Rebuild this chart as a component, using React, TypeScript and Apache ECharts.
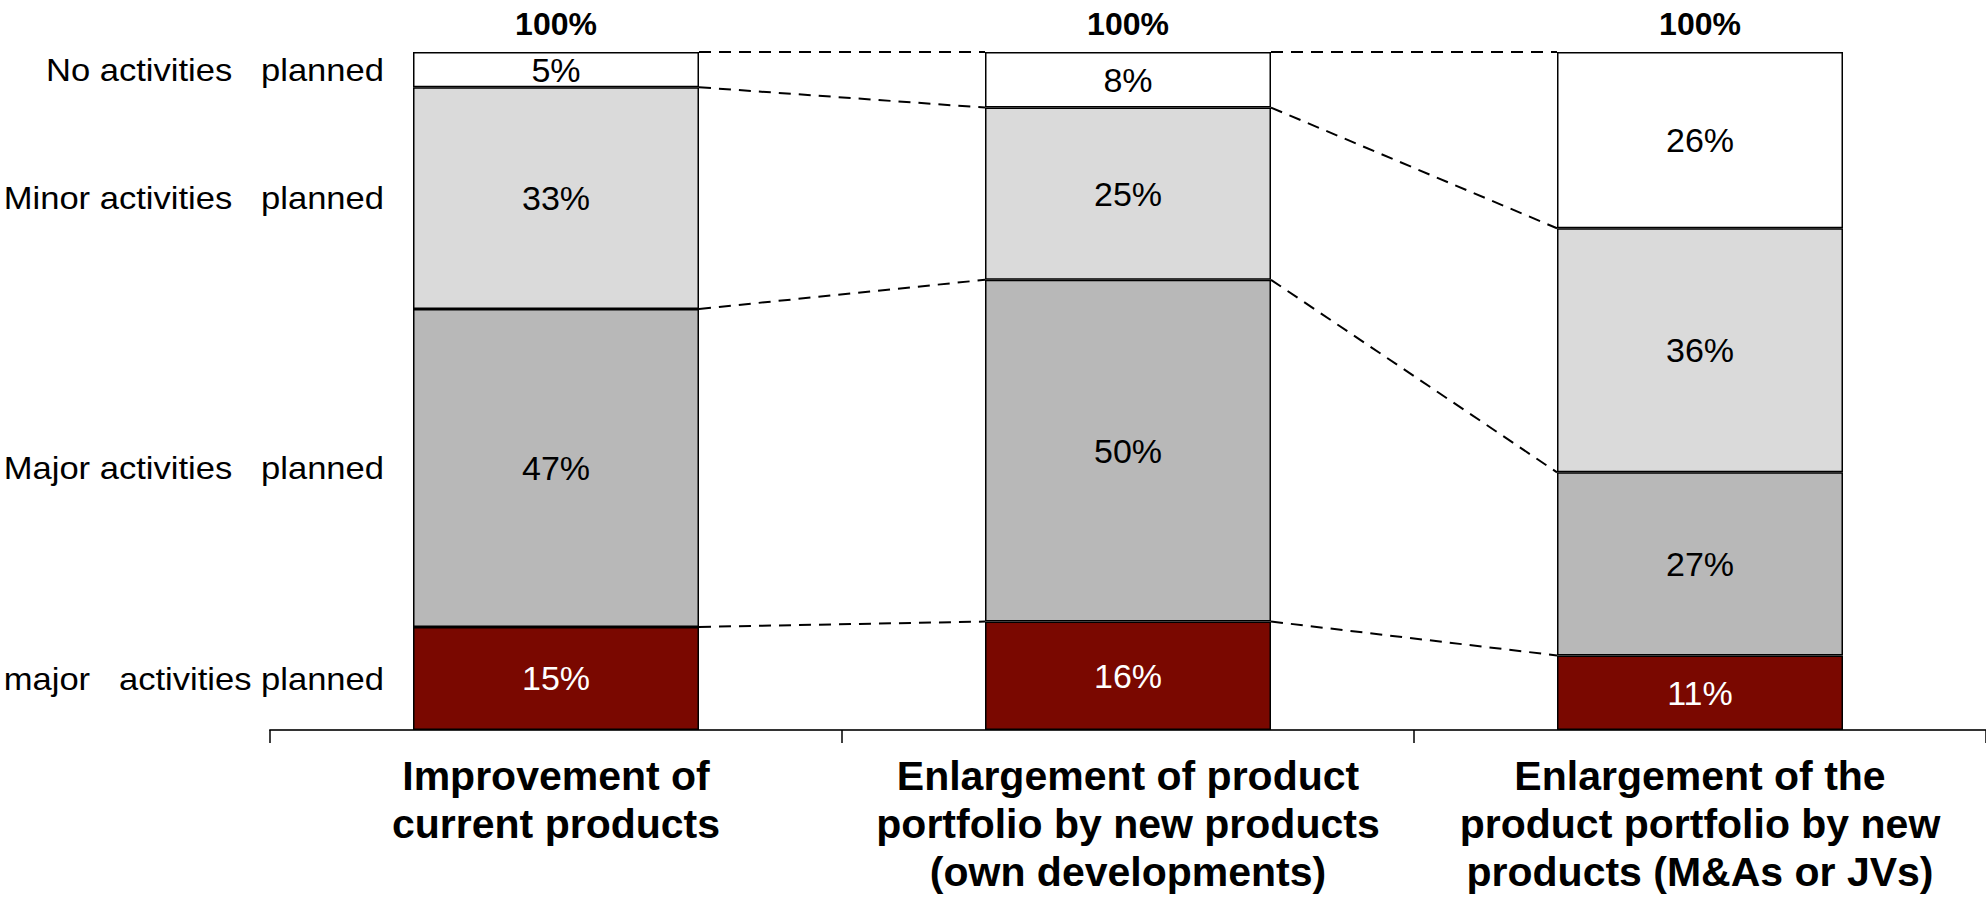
import React, { useEffect, useRef } from "react";
import * as echarts from "echarts";

const categories = [
  "Improvement of\ncurrent products",
  "Enlargement of product\nportfolio by new products\n(own developments)",
  "Enlargement of the\nproduct portfolio by new\nproducts (M&As or JVs)",
];
// bottom to top
const levelNames = [
  "major   activities planned",
  "Major activities   planned",
  "Minor activities   planned",
  "No activities   planned",
];
const veryMajorActivities = [15.2, 16.0, 11.0];
const majorActivities = [46.9, 50.4, 27.0];
const minorActivities = [32.7, 25.4, 36.0];
const noActivities = [5.2, 8.2, 26.0];

const FONT = "'Liberation Sans', Arial, sans-serif";

export default function App() {
  const ref = useRef<HTMLDivElement>(null);

  useEffect(() => {
    document.body.style.margin = "0";
    document.body.style.overflow = "hidden";
    document.documentElement.style.overflow = "hidden";
    if (!ref.current) return;
    const chart = echarts.init(ref.current, null, { renderer: "svg" });

    const stacks = [veryMajorActivities, majorActivities, minorActivities, noActivities];
    const colors = ["#7A0800", "#B8B8B8", "#DADADA", "#FFFFFF"];
    const labelColors = ["#FFFFFF", "#000000", "#000000", "#000000"];
    const totals = categories.map((_, i) => stacks.reduce((s, a) => s + a[i], 0));

    const cum = categories.map((_, i) => {
      let acc = 0;
      return stacks.map((a) => (acc += a[i]));
    });
    const connectors: number[][] = [];
    for (let i = 0; i < categories.length - 1; i++) {
      for (let k = 0; k < stacks.length; k++) {
        connectors.push([i, cum[i][k], cum[i + 1][k]]);
      }
    }
    const leftLabels = levelNames.map((_, k) => {
      const top = cum[0][k];
      const bottom = k === 0 ? 0 : cum[0][k - 1];
      return [0, (top + bottom) / 2, k];
    });

    const pct = (p: any) => Math.round(Number(p.value)) + "%";

    const barSeries = stacks.map((data, k) => ({
      type: "bar",
      name: levelNames[k],
      stack: "total",
      barWidth: "50%",
      data,
      itemStyle: { color: colors[k], borderColor: "#000", borderWidth: 1.5 },
      label: {
        show: true,
        position: "inside",
        formatter: pct,
        fontSize: 34,
        fontFamily: FONT,
        color: labelColors[k],
      },
      z: 2,
    }));

    chart.setOption({
      animation: false,
      backgroundColor: "#fff",
      grid: {
        left: 270,
        right: 0,
        top: 52,
        bottom: 169,
        containLabel: false,
        outerBoundsMode: "none",
      },
      xAxis: {
        type: "category",
        data: categories,
        axisLine: { show: true, lineStyle: { color: "#333", width: 2 } },
        axisTick: { show: true, length: 13, lineStyle: { color: "#000", width: 1.5 } },
        axisLabel: {
          interval: 0,
          margin: 22,
          fontSize: 41,
          fontWeight: "bold",
          fontFamily: FONT,
          color: "#000",
          lineHeight: 48,
          align: "center",
        },
      },
      yAxis: { type: "value", min: 0, max: 100, show: false },
      series: [
        ...barSeries,
        {
          type: "scatter",
          data: totals,
          symbol: "rect",
          symbolSize: 1,
          itemStyle: { color: "rgba(0,0,0,0)", opacity: 1 },
          label: {
            show: true,
            position: "top",
            distance: 12,
            formatter: pct,
            fontSize: 32,
            fontWeight: "bold",
            fontFamily: FONT,
            color: "#000",
            opacity: 1,
          },
          z: 3,
        },
        {
          type: "custom",
          data: connectors,
          encode: { x: 0, y: [1, 2] },
          renderItem: (params: any, api: any) => {
            const i = api.value(0);
            const p1 = api.coord([i, api.value(1)]);
            const p2 = api.coord([i + 1, api.value(2)]);
            const half = api.size([1, 0])[0] * 0.25;
            return {
              type: "line",
              shape: { x1: p1[0] + half, y1: p1[1], x2: p2[0] - half, y2: p2[1] },
              style: { stroke: "#000", lineWidth: 2, lineDash: [12, 8] },
            };
          },
          z: 1,
        },
        {
          type: "custom",
          data: leftLabels,
          encode: { x: 0, y: 1 },
          renderItem: (params: any, api: any) => {
            const p = api.coord([api.value(0), api.value(1)]);
            const half = api.size([1, 0])[0] * 0.25;
            return {
              type: "text",
              x: p[0] - half - 29,
              y: p[1],
              scaleX: 1.08,
              style: {
                text: levelNames[api.value(2)],
                align: "right",
                verticalAlign: "middle",
                fontSize: 32,
                fontFamily: FONT,
                fill: "#000",
              },
            };
          },
          z: 3,
        },
      ],
    });

    return () => chart.dispose();
  }, []);

  return (
    <div
      ref={ref}
      style={{ position: "fixed", left: 0, top: 0, width: 1986, height: 899 }}
    />
  );
}
